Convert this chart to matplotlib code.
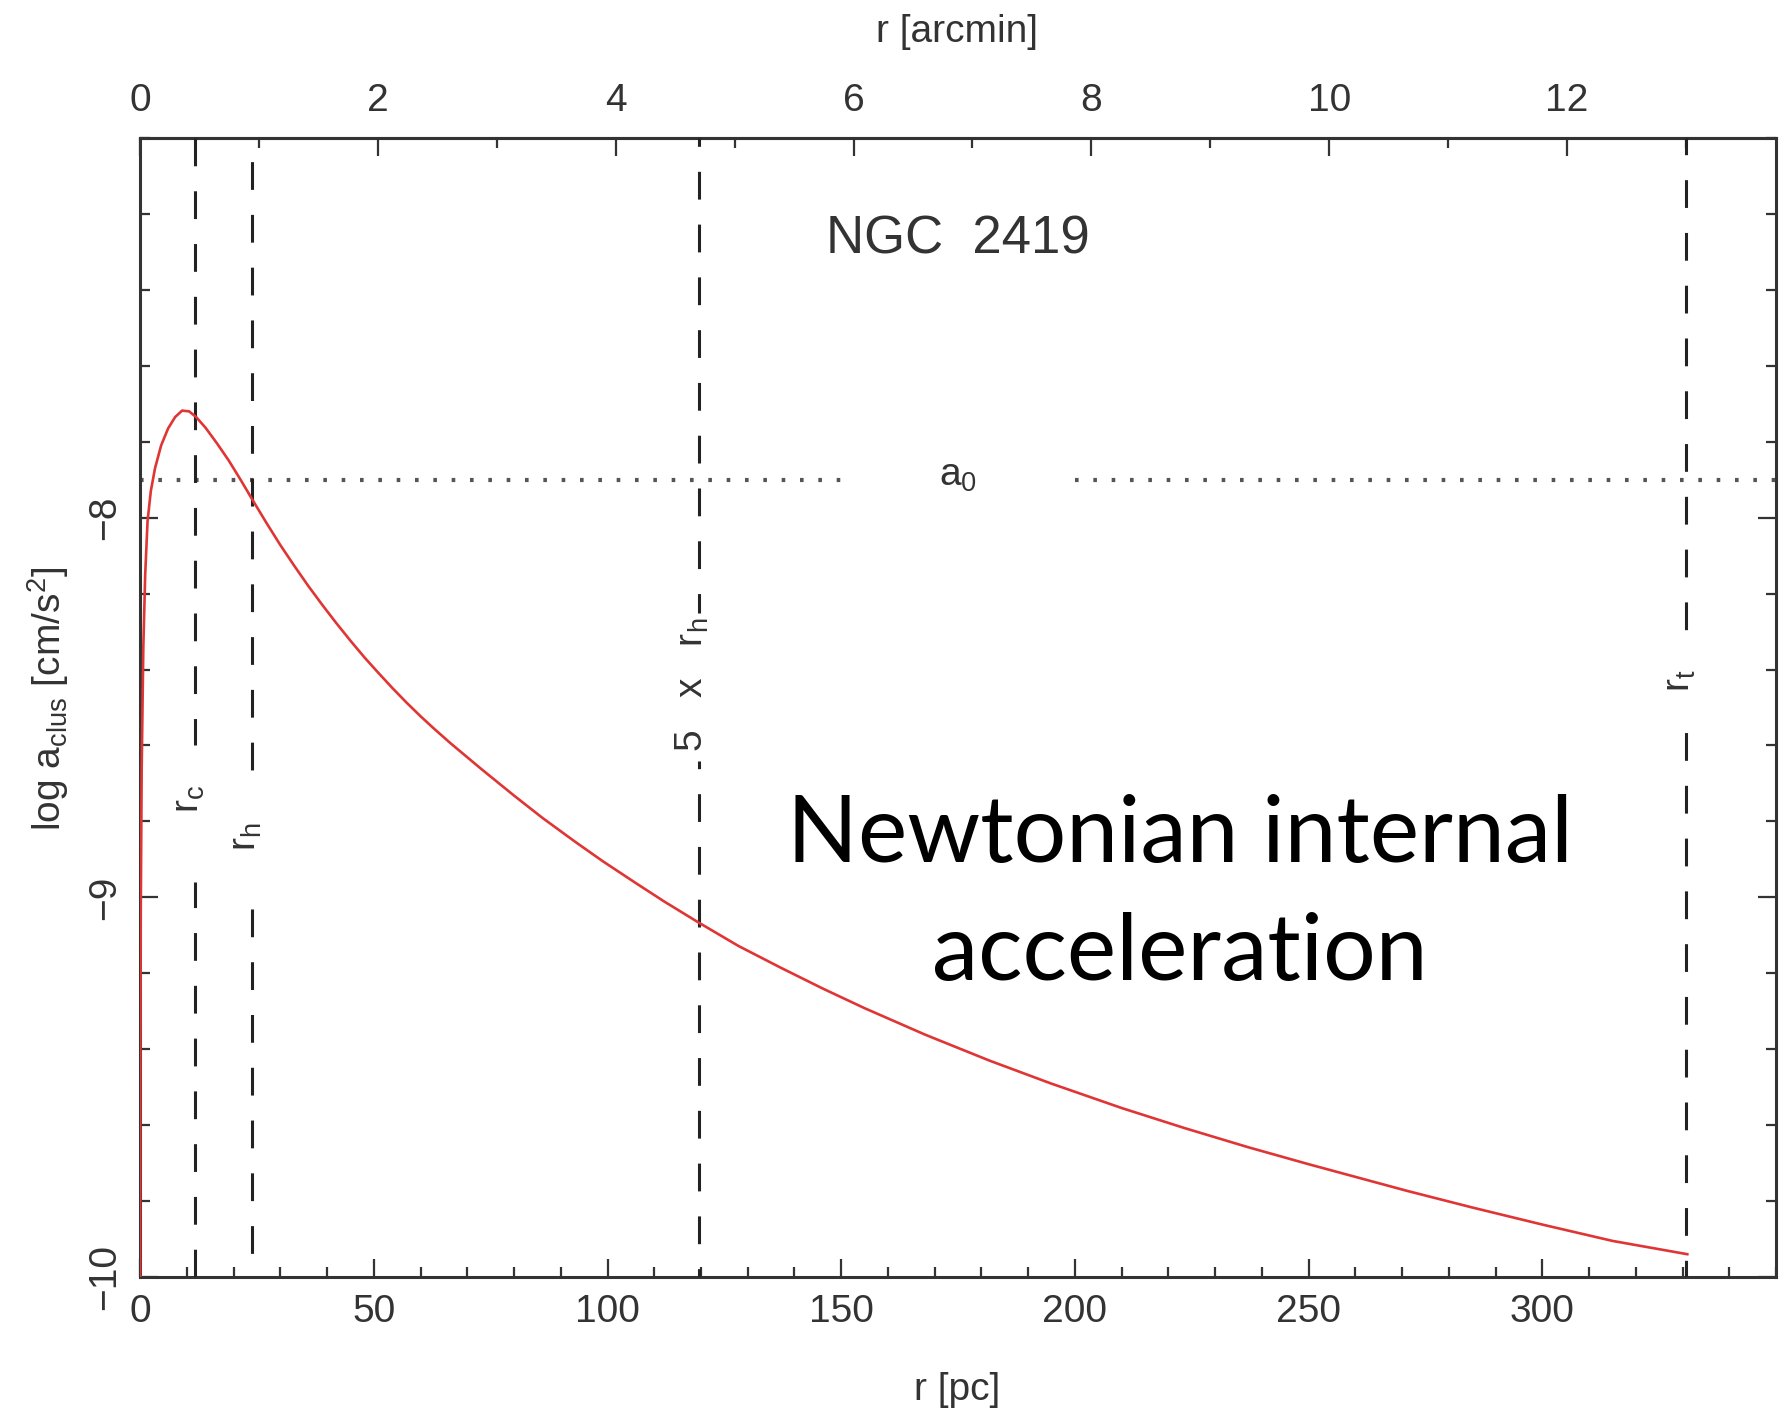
import matplotlib
matplotlib.use('Agg')
import matplotlib.pyplot as plt
from matplotlib.ticker import MultipleLocator

plt.rcParams['font.family'] = 'Liberation Sans'
plt.rcParams['mathtext.default'] = 'regular'
plt.rcParams['lines.scale_dashes'] = False

PC_PER_ARCMIN = 25.44          # NGC 2419 distance scale

# acceleration profile
r_pc = [0.016, 0.05, 0.15, 0.35, 0.7, 1.1, 1.6, 2.3, 3.2, 4.5, 6.0, 7.5, 9.0,
        10.5, 12.0, 14.0, 16.5, 19.0, 21.5, 24.0, 27.0, 30.0, 33.0, 36.0, 39.0,
        42.0, 45.0, 48.0, 51.0, 54.0, 57.0, 60.0, 63.0, 66.4, 73.0, 80.0, 86.0,
        93.0, 99.0, 106.0, 112.0, 119.3, 128.0, 137.0, 146.0, 155.0, 168.0,
        181.7, 194.8, 210.0, 223.5, 237.0, 250.0, 271.0, 285.0, 300.0, 315.0,
        331.0]
log_a = [-10.0, -9.5, -9.03, -8.66, -8.34, -8.15, -8.01, -7.93, -7.87, -7.81,
         -7.765, -7.735, -7.718, -7.72, -7.735, -7.763, -7.805, -7.85, -7.9,
         -7.952, -8.013, -8.072, -8.127, -8.18, -8.23, -8.278, -8.324, -8.368,
         -8.409, -8.449, -8.487, -8.523, -8.557, -8.594, -8.662, -8.732, -8.79,
         -8.853, -8.905, -8.962, -9.01, -9.065, -9.128, -9.185, -9.24, -9.292,
         -9.362, -9.43, -9.49, -9.555, -9.608, -9.658, -9.703, -9.773, -9.817,
         -9.862, -9.905, -9.94]

A0_LOG = -7.9                  # log a0
A0_GAP = (150.0, 200.0)        # where the dotted line is broken for its label

# characteristic radii [pc]
radii = [11.7, 23.9, 119.5, 330.7]
radii_labels = [r'r$_{c}$', r'r$_{h}$', r'5   x   r$_{h}$', r'r$_{t}$']
radii_label_y = [-8.74, -8.84, -8.44, -8.43]
# stretch of each line left blank around its label (log a units)
radii_gaps = [(-8.96, -8.60), (-8.99, -8.69), (-8.64, -8.25), (-8.52, -8.35)]
# dash phase (offset in pt) so the pattern matches
dash_offsets = [0.0, 21.0, 14.0, 8.0]

XMAX = 350.0
YLIM = (-10.0, -7.0)

INK = '#333333'
fig = plt.figure(figsize=(17.91, 14.14), dpi=100)
ax = fig.add_axes([0.0782, 0.0969, 0.9135, 0.8055])

ax.plot(r_pc, log_a, color='#e03535', lw=1.9, zorder=4)

for seg in [(0, A0_GAP[0]), (A0_GAP[1], XMAX)]:
    ax.plot(seg, [A0_LOG, A0_LOG], color='#555555', lw=3.0,
            dashes=(2.6, 10.6), zorder=2)
ax.text(sum(A0_GAP) / 2, A0_LOG - 0.015, r'a$_{0}$', ha='center', va='baseline',
        fontsize=28, color=INK)

for x, lab, ly, gap, off in zip(radii, radii_labels, radii_label_y, radii_gaps,
                                dash_offsets):
    ls = (off, (20.0, 18.0))
    ax.plot([x, x], [YLIM[0], gap[0]], color='#222222', lw=2.2, linestyle=ls, zorder=3)
    ax.plot([x, x], [YLIM[1], gap[1]], color='#222222', lw=2.2, linestyle=ls, zorder=3)
    ax.text(x + 0.8, ly, lab, rotation=90, rotation_mode='anchor',
            ha='center', va='baseline', fontsize=28, color=INK)

ax.text(175.0, -7.304, 'NGC  2419', ha='center', va='baseline',
        fontsize=38, color=INK)

ax.text(222.4, -8.907, 'Newtonian internal', ha='center', va='baseline',
        fontsize=67, color='black', family='Lato')
ax.text(222.4, -9.218, 'acceleration', ha='center', va='baseline',
        fontsize=67, color='black', family='Lato')

ax.set_xlim(0, XMAX)
ax.set_ylim(*YLIM)

ax.set_xticks(range(0, 301, 50))
ax.xaxis.set_minor_locator(MultipleLocator(10))
ax.set_yticks([-10, -9, -8])
ax.yaxis.set_minor_locator(MultipleLocator(0.2))
ax.tick_params(axis='x', which='both', direction='in', top=False, bottom=True,
               labelsize=28, labelcolor=INK, color=INK, pad=12)
ax.tick_params(axis='y', which='both', direction='in', left=True, right=True,
               labelsize=28, labelcolor=INK, color=INK, pad=12, labelrotation=90)
ax.tick_params(which='major', length=13, width=1.6)
ax.tick_params(which='minor', length=7, width=1.6)
for lbl in ax.get_yticklabels():
    lbl.set_va('center')

secax = ax.secondary_xaxis('top', functions=(lambda x: x / PC_PER_ARCMIN,
                                             lambda x: x * PC_PER_ARCMIN))
secax.set_xticks(range(0, 13, 2))
secax.xaxis.set_minor_locator(MultipleLocator(1))
secax.tick_params(which='both', direction='in', labelsize=28, labelcolor=INK,
                  color=INK, pad=14, width=1.6)
secax.tick_params(which='major', length=13)
secax.tick_params(which='minor', length=7)

for sp in list(ax.spines.values()) + [secax.spines['top']]:
    sp.set_color(INK)
    sp.set_linewidth(2.2)

fig.text(0.5343, 0.0170, 'r [pc]', ha='center', va='center', fontsize=28, color=INK)
fig.text(0.5343, 0.9774, 'r [arcmin]', ha='center', va='center', fontsize=28, color=INK)
fig.text(0.0268, 0.5057, r'log a$_{clus}$ [cm/s$^{2}$]', rotation=90,
         ha='center', va='center', fontsize=28, color=INK)

fig.savefig('out.png', dpi=100, facecolor='white')
